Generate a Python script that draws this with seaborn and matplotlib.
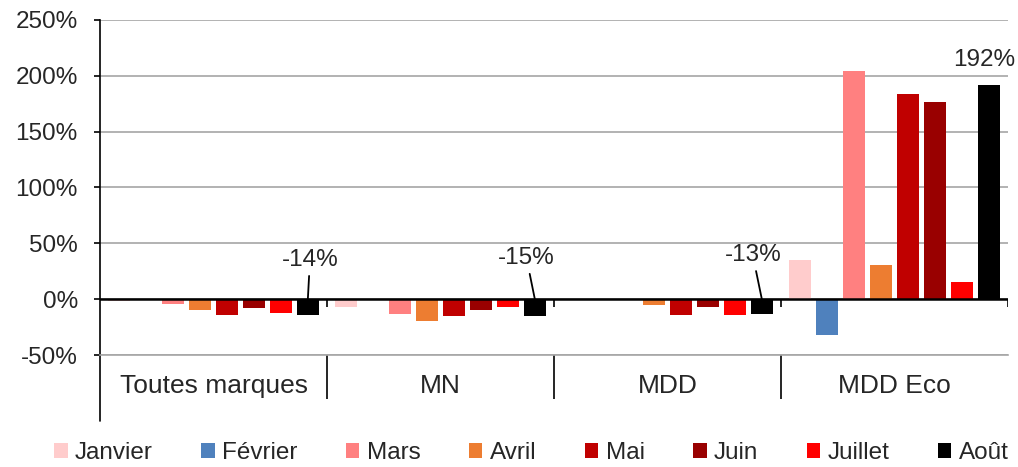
import numpy as np
import matplotlib
matplotlib.use("Agg")
import matplotlib.pyplot as plt
import seaborn as sns
import pandas as pd

# --- données ---
groupes = ["Toutes marques", "MN", "MDD", "MDD Eco"]
mois = ["Janvier", "Février", "Mars", "Avril", "Mai", "Juin", "Juillet", "Août"]
couleurs = ["#FFCCCC", "#4F81BD", "#FF8080", "#ED7D31", "#C00000", "#990000", "#FF0000", "#000000"]

janvier = [-1.5, -7, 0, 35]
fevrier = [0, -1, 0, -32]
mars = [-4, -13, -1, 204]
avril = [-10, -20, -5, 31]
mai = [-14, -15, -14, 184]
juin = [-8, -10, -7, 177]
juillet = [-12, -7, -14, 15]
aout = [-14, -15, -13, 192]

series = [janvier, fevrier, mars, avril, mai, juin, juillet, aout]
rows = []
for m, vals in zip(mois, series):
    for g, v in zip(groupes, vals):
        rows.append({"groupe": g, "mois": m, "valeur": v})
df = pd.DataFrame(rows)

# décalage des étiquettes (points) pour la série Août
decalages = [(1.5, 28), (-6, 29.5), (-6.5, 31.5), (-3, 18)]

sns.set_style("white")
plt.rcParams["font.family"] = ["Liberation Sans", "DejaVu Sans"]
FS = 17.5

fig = plt.figure(figsize=(10.18, 4.67), dpi=100)
ax = fig.add_axes([100 / 1018, 1 - 355 / 467, 908 / 1018, 335 / 467])

sns.barplot(data=df, x="groupe", y="valeur", hue="mois", order=groupes, hue_order=mois,
            palette=couleurs, saturation=1, width=0.95, gap=0.18, linewidth=0, ax=ax)

ax.set_xlim(-0.5, 3.5)
ax.set_ylim(-50, 250)
ax.set_yticks(np.arange(-50, 251, 50))
ax.set_yticklabels([f"{v}%" for v in range(-50, 251, 50)], fontsize=FS)
ax.set_xlabel("")
ax.set_ylabel("")
ax.set_axisbelow(True)
ax.yaxis.grid(True, color="#A6A6A6", lw=1.2)
ax.xaxis.grid(False)

for s in ["top", "right"]:
    ax.spines[s].set_visible(False)
ax.spines["bottom"].set_color("#A6A6A6")
ax.spines["bottom"].set_linewidth(1.2)
ax.spines["left"].set_color("black")
ax.spines["left"].set_linewidth(1.2)

ax.tick_params(axis="y", which="major", left=True, length=4, width=1.2, color="black", pad=12)
ax.tick_params(axis="x", which="major", length=0, pad=14, labelsize=FS + 1.5)
ax.set_xticks([0.5, 1.5, 2.5], minor=True)
ax.tick_params(axis="x", which="minor", bottom=True, length=32, width=1.2, color="black", direction="out")

# ligne du zéro et petites graduations
ax.axhline(0, color="black", lw=1.8, zorder=3)
ax.vlines([0.5, 1.5, 2.5, 3.5], -7, 0, color="black", lw=1.2, zorder=3)
ax.plot([0, 0], [0, -66 / 335], transform=ax.transAxes, color="black", lw=1.2, clip_on=False)

# étiquettes de la série Août
barres_aout = ax.containers[-1]
for b, v, (dx, dy) in zip(barres_aout, aout, decalages):
    xc = b.get_x() + b.get_width() / 2
    if v < 0:
        ax.annotate(f"{v:.0f}%", xy=(xc, 0), xytext=(dx, dy), textcoords="offset points",
                    ha="center", va="center", fontsize=FS,
                    arrowprops=dict(arrowstyle="-", color="black", lw=1.3, shrinkA=1, shrinkB=0))
    else:
        ax.annotate(f"{v:.0f}%", xy=(xc, v), xytext=(dx, dy), textcoords="offset points",
                    ha="center", va="center", fontsize=FS)

handles, labels = ax.get_legend_handles_labels()
ax.legend_.remove()
fig.legend(handles, labels, loc="center", bbox_to_anchor=(0.522, 0.03), ncol=8, frameon=False,
           fontsize=FS, handlelength=0.55, handleheight=0.55, handletextpad=0.3, columnspacing=2.0,
           borderaxespad=0)

fig.savefig("out.png", dpi=100)
